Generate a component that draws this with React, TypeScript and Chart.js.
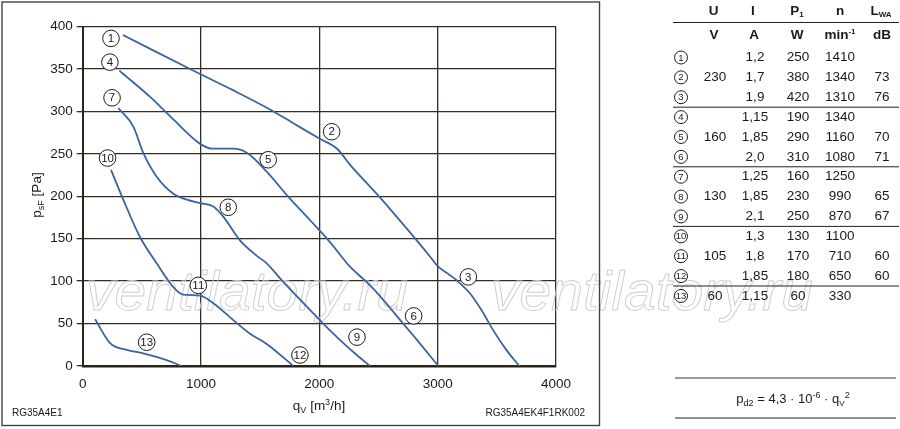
import React, { useEffect, useRef } from "react";
import { Chart, registerables } from "chart.js";

Chart.register(...registerables);

const FONT = '"Liberation Sans", Arial, Helvetica, sans-serif';

// ---- axis ticks ----
const xTicks = [0, 1000, 2000, 3000, 4000];
const yTicks = [0, 50, 100, 150, 200, 250, 300, 350, 400];

// ---- curves (q in m3/h, p in Pa) ----
const q230 = [340, 920, 1270, 1560, 1780, 2000, 2150, 2260, 2510, 2750, 2935, 3005, 3104, 3160, 3270, 3370, 3470, 3580, 3690];
const p230 = [390, 349, 325, 304, 286, 268, 256, 237, 199, 160, 129, 117, 107, 101, 86, 66, 42, 19, 0];

const q160 = [310, 570, 770, 990, 1100, 1270, 1390, 1555, 1740, 1920, 2090, 2259, 2414, 2540, 2696, 2823, 3006];
const p160 = [348, 317, 290, 262, 256, 256, 251, 229, 199, 172, 146, 117, 97, 78, 52, 31, 0];

const q130 = [301, 428, 512, 625, 766, 880, 990, 1104, 1188, 1329, 1470, 1555, 1695, 2005, 2090, 2203, 2316, 2428];
const p130 = [304, 282, 251, 223, 203, 196, 192, 188, 176, 148, 130, 121, 99, 54, 42, 27, 13, 0];

const q105 = [239, 343, 484, 625, 766, 850, 991, 1104, 1273, 1414, 1555, 1780];
const p105 = [231, 196, 152, 121, 93, 84, 83, 74, 54, 38, 26, 0];

const q60 = [105, 231, 372, 512, 710, 836];
const p60 = [55, 27, 19, 15, 7, 0];

// ---- curve point labels ----
const labelIds = ["1", "4", "7", "10", "2", "5", "8", "11", "13", "12", "9", "6", "3"];
const labelQ = [239, 230, 248, 210, 2104, 1568, 1230, 977, 541, 1836, 2318, 2797, 3259];
const labelP = [386, 358, 316, 245, 276, 243, 187, 95, 28, 13, 34, 59, 105];

// ---- table ----
const rowIds = ["1", "2", "3", "4", "5", "6", "7", "8", "9", "10", "11", "12", "13"];
const colU = ["", "230", "", "", "160", "", "", "130", "", "", "105", "", "60"];
const colI = ["1,2", "1,7", "1,9", "1,15", "1,85", "2,0", "1,25", "1,85", "2,1", "1,3", "1,8", "1,85", "1,15"];
const colP = ["250", "380", "420", "190", "290", "310", "160", "230", "250", "130", "170", "180", "60"];
const colN = ["1410", "1340", "1310", "1340", "1160", "1080", "1250", "990", "870", "1100", "710", "650", "330"];
const colL = ["", "73", "76", "", "70", "71", "", "65", "67", "", "60", "60", ""];

const footLeft = "RG35A4E1";
const footRight = "RG35A4EK4F1RK002";
const watermark = "ventilatory.ru";

const INK = "#1c1a16";
const CURVE = "#3a63a2";

type Seg = { t: string; size: number; dy?: number; bold?: boolean };

function segWidth(ctx: CanvasRenderingContext2D, segs: Seg[]) {
  let w = 0;
  for (const s of segs) {
    ctx.font = `${s.bold ? "bold " : ""}${s.size}px ${FONT}`;
    w += ctx.measureText(s.t).width;
  }
  return w;
}

function drawSegs(ctx: CanvasRenderingContext2D, segs: Seg[], cx: number, baseline: number) {
  const w = segWidth(ctx, segs);
  let x = cx - w / 2;
  ctx.textAlign = "left";
  ctx.textBaseline = "alphabetic";
  for (const s of segs) {
    ctx.font = `${s.bold ? "bold " : ""}${s.size}px ${FONT}`;
    ctx.fillText(s.t, x, baseline + (s.dy || 0));
    x += ctx.measureText(s.t).width;
  }
}

function circleLabel(ctx: CanvasRenderingContext2D, x: number, y: number, r: number, text: string, fontPx: number) {
  ctx.save();
  ctx.beginPath();
  ctx.arc(x, y, r, 0, Math.PI * 2);
  ctx.fillStyle = "#fff";
  ctx.fill();
  ctx.lineWidth = 1;
  ctx.strokeStyle = INK;
  ctx.stroke();
  ctx.fillStyle = INK;
  ctx.font = `${fontPx}px ${FONT}`;
  ctx.textAlign = "center";
  ctx.textBaseline = "middle";
  const w = ctx.measureText(text).width;
  const maxW = r * 1.65;
  ctx.translate(x, y + 0.5);
  if (w > maxW) ctx.scale(maxW / w, 1);
  ctx.fillText(text, 0, 0);
  ctx.restore();
}

function drawWatermark(ctx: CanvasRenderingContext2D, left: number, baseline: number, width: number) {
  ctx.save();
  ctx.font = `italic 55px ${FONT}`;
  const w = ctx.measureText(watermark).width;
  ctx.translate(left, baseline);
  ctx.scale(width / w, 1);
  ctx.lineWidth = 0.9;
  ctx.strokeStyle = "#cdcdcd";
  ctx.textAlign = "left";
  ctx.textBaseline = "alphabetic";
  ctx.strokeText(watermark, 0, 0);
  ctx.restore();
}

const decor = {
  id: "decor",
  beforeDatasetsDraw(chart: any) {
    const ctx: CanvasRenderingContext2D = chart.ctx;
    drawWatermark(ctx, 86, 310, 322);
    drawWatermark(ctx, 491, 310, 322);
  },
  afterDatasetsDraw(chart: any) {
    const ctx: CanvasRenderingContext2D = chart.ctx;
    const xs = chart.scales.x;
    const ys = chart.scales.y;
    labelIds.forEach((id, i) => {
      const px = xs.getPixelForValue(labelQ[i]);
      const py = ys.getPixelForValue(labelP[i]);
      circleLabel(ctx, px, py, 8.3, id, 11.5);
    });
  },
  afterDraw(chart: any) {
    const ctx: CanvasRenderingContext2D = chart.ctx;
    ctx.save();
    // outer frame
    ctx.strokeStyle = "#444";
    ctx.lineWidth = 1.4;
    ctx.strokeRect(2, 2, 597.5, 423.5);

    ctx.fillStyle = INK;
    // y title (rotated)
    ctx.save();
    ctx.translate(36, 195);
    ctx.rotate(-Math.PI / 2);
    drawSegs(ctx, [
      { t: "p", size: 13.5 },
      { t: "sF", size: 9, dy: 3 },
      { t: " [Pa]", size: 13.5 },
    ], 0, 4.5);
    ctx.restore();

    // x title
    drawSegs(ctx, [
      { t: "q", size: 13.5 },
      { t: "V", size: 9, dy: 3 },
      { t: " [m", size: 13.5 },
      { t: "3", size: 9, dy: -5 },
      { t: "/h]", size: 13.5 },
    ], 319, 409.5);

    // footers
    ctx.font = `10px ${FONT}`;
    ctx.textBaseline = "middle";
    ctx.textAlign = "left";
    ctx.fillText(footLeft, 12, 413);
    ctx.textAlign = "right";
    ctx.fillText(footRight, 585, 413);

    // ---- table ----
    const cCirc = 681, cU = 715, cI = 755, cP = 798, cN = 840, cL = 882;
    const rowY = (i: number) => 57.5 + i * 19.87;
    ctx.strokeStyle = "#222";
    ctx.lineWidth = 1;
    const hline = (y: number, x0 = 673, x1 = 899) => {
      ctx.beginPath();
      ctx.moveTo(x0, y);
      ctx.lineTo(x1, y);
      ctx.stroke();
    };
    hline(22.5);
    [2, 5, 8, 11].forEach((i) => hline((rowY(i) + rowY(i + 1)) / 2));

    // header row 1
    const h1 = 14.5;
    drawSegs(ctx, [{ t: "U", size: 13.5, bold: true }], cU - 1.5, h1);
    drawSegs(ctx, [{ t: "I", size: 13.5, bold: true }], cI - 2, h1);
    drawSegs(ctx, [{ t: "P", size: 13.5, bold: true }, { t: "1", size: 8, bold: true, dy: 2 }], cP - 1, h1);
    drawSegs(ctx, [{ t: "n", size: 13.5, bold: true }], cN, h1);
    drawSegs(ctx, [{ t: "L", size: 13.5, bold: true }, { t: "WA", size: 8, bold: true, dy: 2 }], cL - 1, h1);
    // header row 2
    const h2 = 38.5;
    drawSegs(ctx, [{ t: "V", size: 13.5, bold: true }], cU - 1, h2);
    drawSegs(ctx, [{ t: "A", size: 13.5, bold: true }], cI - 1, h2);
    drawSegs(ctx, [{ t: "W", size: 13.5, bold: true }], cP - 1, h2);
    drawSegs(ctx, [{ t: "min", size: 13.5, bold: true }, { t: "-1", size: 8, bold: true, dy: -5 }], cN, h2);
    drawSegs(ctx, [{ t: "dB", size: 13.5, bold: true }], cL, h2);

    rowIds.forEach((id, i) => {
      const y = rowY(i);
      circleLabel(ctx, cCirc, y, 6.5, id, 9.5);
      ctx.fillStyle = INK;
      ctx.font = `13.5px ${FONT}`;
      ctx.textAlign = "center";
      ctx.textBaseline = "middle";
      if (colU[i]) ctx.fillText(colU[i], cU, y);
      ctx.fillText(colI[i], cI, y);
      ctx.fillText(colP[i], cP, y);
      ctx.fillText(colN[i], cN, y);
      if (colL[i]) ctx.fillText(colL[i], cL, y);
    });

    // formula box
    ctx.strokeStyle = "#777";
    ctx.lineWidth = 1.5;
    hline(378, 675, 896);
    ctx.strokeStyle = "#222";
    ctx.lineWidth = 1;
    hline(418, 675, 896);
    ctx.fillStyle = INK;
    drawSegs(ctx, [
      { t: "p", size: 13 },
      { t: "d2", size: 9, dy: 3 },
      { t: " = 4,3 \u00B7 10", size: 13 },
      { t: "-6", size: 9, dy: -5 },
      { t: " \u00B7 q", size: 13 },
      { t: "V", size: 8, dy: 3 },
      { t: "2", size: 9, dy: -5 },
    ], 793, 402.5);
    ctx.restore();
  },
};

function toPts(q: number[], p: number[]) {
  return q.map((x, i) => ({ x, y: p[i] }));
}

export default function App() {
  const ref = useRef<HTMLCanvasElement | null>(null);
  useEffect(() => {
    if (!ref.current) return;
    const series = [
      { q: q230, p: p230 },
      { q: q160, p: p160 },
      { q: q130, p: p130 },
      { q: q105, p: p105 },
      { q: q60, p: p60 },
    ];
    const chart = new Chart(ref.current, {
      type: "scatter",
      data: {
        datasets: series.map((s) => ({
          data: toPts(s.q, s.p),
          showLine: true,
          borderColor: CURVE,
          borderWidth: 1.8,
          pointRadius: 0,
          cubicInterpolationMode: "monotone" as const,
          fill: false,
        })),
      },
      options: {
        responsive: false,
        animation: false,
        devicePixelRatio: window.devicePixelRatio || 1,
        layout: { padding: { left: 0, top: 26.5, right: 344, bottom: 0 } },
        plugins: { legend: { display: false }, tooltip: { enabled: false } },
        scales: {
          x: {
            type: "linear",
            min: 0,
            max: 4000,
            afterFit: (s: any) => { s.height = 63; },
            afterBuildTicks: (s: any) => { s.ticks = xTicks.map((v) => ({ value: v })); },
            ticks: {
              autoSkip: false, maxRotation: 0, padding: 10, color: INK,
              font: { family: FONT, size: 13.5 },
              callback: (v: any) => String(v),
            },
            grid: { color: "#342d21", lineWidth: 1.3, drawTicks: false },
            border: { display: true, color: "#2a2418", width: 2.4 },
          },
          y: {
            type: "linear",
            min: 0,
            max: 400,
            afterFit: (s: any) => { s.width = 82.7; },
            afterBuildTicks: (s: any) => { s.ticks = yTicks.map((v) => ({ value: v })); },
            ticks: {
              autoSkip: false, padding: 4, color: INK,
              font: { family: FONT, size: 13.5 },
              callback: (v: any) => String(v),
            },
            grid: { color: "#342d21", lineWidth: 1.3, drawTicks: true, tickLength: 6 },
            border: { display: true, color: "#2a2418", width: 2 },
          },
        },
      },
      plugins: [decor],
    } as any);
    return () => chart.destroy();
  }, []);
  return (
    <div style={{ position: "absolute", left: 0, top: 0, width: 900, height: 429, background: "#fff" }}>
      <canvas ref={ref} width={900} height={429} style={{ display: "block", width: 900, height: 429 }} />
    </div>
  );
}
